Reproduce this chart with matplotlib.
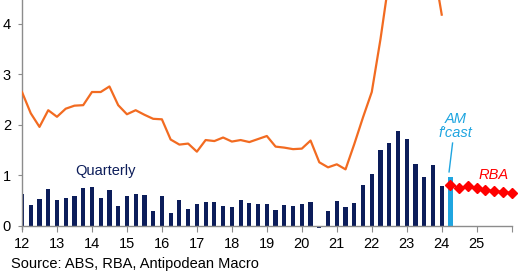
import matplotlib.pyplot as plt
import numpy as np

# quarterly positions: 12.0 = Dec-11 ... 24.0 = Dec-23
bar_x = np.arange(12.0, 24.01, 0.25)
bar_vals = [0.64, 0.41, 0.53, 0.74, 0.51, 0.55, 0.59, 0.76, 0.78, 0.56, 0.72, 0.39,
            0.59, 0.64, 0.62, 0.30, 0.60, 0.25, 0.51, 0.33, 0.43, 0.48, 0.48, 0.39,
            0.37, 0.52, 0.45, 0.43, 0.43, 0.32, 0.41, 0.39, 0.43, 0.48, -0.04, 0.30,
            0.50, 0.38, 0.46, 0.82, 1.03, 1.51, 1.64, 1.88, 1.72, 1.22, 0.97, 1.20,
            0.79]

annual_vals = [2.65, 2.23, 1.96, 2.29, 2.16, 2.32, 2.38, 2.39, 2.65, 2.65, 2.76, 2.39,
               2.21, 2.29, 2.20, 2.12, 2.11, 1.71, 1.61, 1.63, 1.47, 1.70, 1.68, 1.75,
               1.67, 1.70, 1.66, 1.72, 1.78, 1.57, 1.55, 1.52, 1.53, 1.69, 1.26, 1.16,
               1.22, 1.12, 1.62, 2.15, 2.65, 3.7, 4.9, 6.1, 6.8, 6.6, 5.9, 5.2,
               4.18]

am_x = 24.25
am_val = 0.97

rba_x = [24.25, 24.5, 24.75, 25.0, 25.25, 25.5, 25.75, 26.0]
rba_vals = [0.82, 0.76, 0.79, 0.76, 0.72, 0.70, 0.68, 0.66]

year_ticks = list(range(12, 27))
year_labels = [str(y) for y in range(12, 26)] + ['']

navy = '#0c1d5a'
orange = '#f26b21'
lblue = '#1fa5e0'
red = '#ff0000'
grey = '#8c8c8c'

plt.rcParams['font.family'] = ['Liberation Sans', 'DejaVu Sans']
fig = plt.figure(figsize=(5.2, 2.72), dpi=100)
ax = fig.add_axes([0.0423, 0.158, 0.9417, 0.842])

ax.bar(bar_x, bar_vals, width=0.12, color=navy, zorder=2)
ax.bar(am_x, am_val, width=0.12, color=lblue, zorder=2)
ax.plot(bar_x, annual_vals, color=orange, linewidth=1.6, zorder=3)
ax.plot(rba_x, rba_vals, color=red, marker='D', markersize=5.5, linewidth=1.0,
        zorder=4, clip_on=False)

ax.text(14.4, 1.09, 'Quarterly', color=navy, fontsize=10.5, ha='center', va='center')
ax.text(24.4, 1.98, "AM\nf'cast", color=lblue, fontsize=10.5, style='italic',
        ha='center', va='center', linespacing=1.0)
ax.plot([24.31, 24.21], [1.64, 1.07], color=lblue, linewidth=1.0)
ax.text(25.49, 1.01, 'RBA', color=red, fontsize=10.5, style='italic', ha='center', va='center')

ax.set_xlim(12, 26)
ax.set_ylim(-0.06, 4.47)
ax.set_xticks(year_ticks, labels=year_labels)
ax.set_yticks([0, 1, 2, 3, 4])
ax.spines['bottom'].set_position(('data', 0))
for s in ['top', 'right']:
    ax.spines[s].set_visible(False)
for s in ['left', 'bottom']:
    ax.spines[s].set_color(grey)
    ax.spines[s].set_linewidth(1.0)
ax.tick_params(axis='x', length=4, color=grey, labelsize=10.5, pad=4)
ax.tick_params(axis='y', length=3, color=grey, labelsize=10.5, pad=5)

fig.text(0.021, 0.03, 'Source: ABS, RBA, Antipodean Macro', fontsize=10.5, ha='left', va='center')

plt.savefig('out.png', dpi=100)
